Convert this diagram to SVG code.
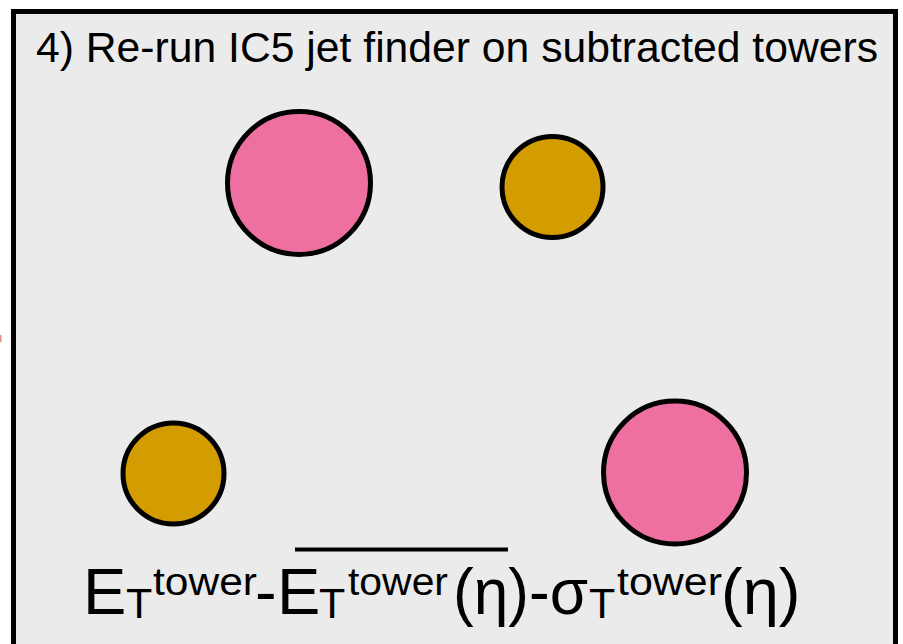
<svg xmlns="http://www.w3.org/2000/svg" width="903" height="644" viewBox="0 0 903 644">
<style>
  .frame{fill:#ebebeb;stroke:#000;stroke-width:5}
  .jet{stroke:#000;stroke-width:5}
  .pink{fill:#ee70a0}
  .gold{fill:#d39c00}
  .t{font-family:"Liberation Sans",Arial,sans-serif;fill:#000}
  .main{font-size:65px}
  .sub{font-size:43px}
  .sup{font-size:39px}
</style>
<rect x="0" y="0" width="903" height="644" fill="#ffffff"/>
<rect x="0" y="335" width="1.5" height="7" fill="#e0907e"/>
<g id="panel">
  <rect class="frame" x="13.5" y="11.5" width="882" height="640"/>
  <text class="t" x="36" y="62" font-size="42.5" textLength="842" lengthAdjust="spacingAndGlyphs">4) Re-run IC5 jet finder on subtracted towers</text>
</g>
<g id="jet-pink-top"><circle class="jet pink" cx="299" cy="183" r="71.5"/></g>
<g id="jet-gold-top"><circle class="jet gold" cx="552.5" cy="187" r="50.5"/></g>
<g id="jet-gold-bottom"><circle class="jet gold" cx="173.5" cy="473.5" r="50.5"/></g>
<g id="jet-pink-bottom"><circle class="jet pink" cx="675" cy="472.5" r="71.5"/></g>
<g id="formula">
  <line x1="295" y1="549.5" x2="508" y2="549.5" stroke="#000" stroke-width="4"/>
  <text class="t main" x="83" y="614">E</text>
  <text class="t sub" x="126" y="618">T</text>
  <text class="t sup" x="153" y="595" textLength="104" lengthAdjust="spacingAndGlyphs">tower</text>
  <text class="t main" x="255" y="614">-</text>
  <text class="t main" x="277" y="614">E</text>
  <text class="t sub" x="319" y="618">T</text>
  <text class="t sup" x="348" y="595" textLength="100" lengthAdjust="spacingAndGlyphs">tower</text>
  <text class="t main" x="453" y="614" textLength="135" lengthAdjust="spacingAndGlyphs">(η)-σ</text>
  <text class="t sub" x="589" y="618">T</text>
  <text class="t sup" x="617" y="595" textLength="105" lengthAdjust="spacingAndGlyphs">tower</text>
  <text class="t main" x="721" y="614">(η)</text>
</g>
</svg>
